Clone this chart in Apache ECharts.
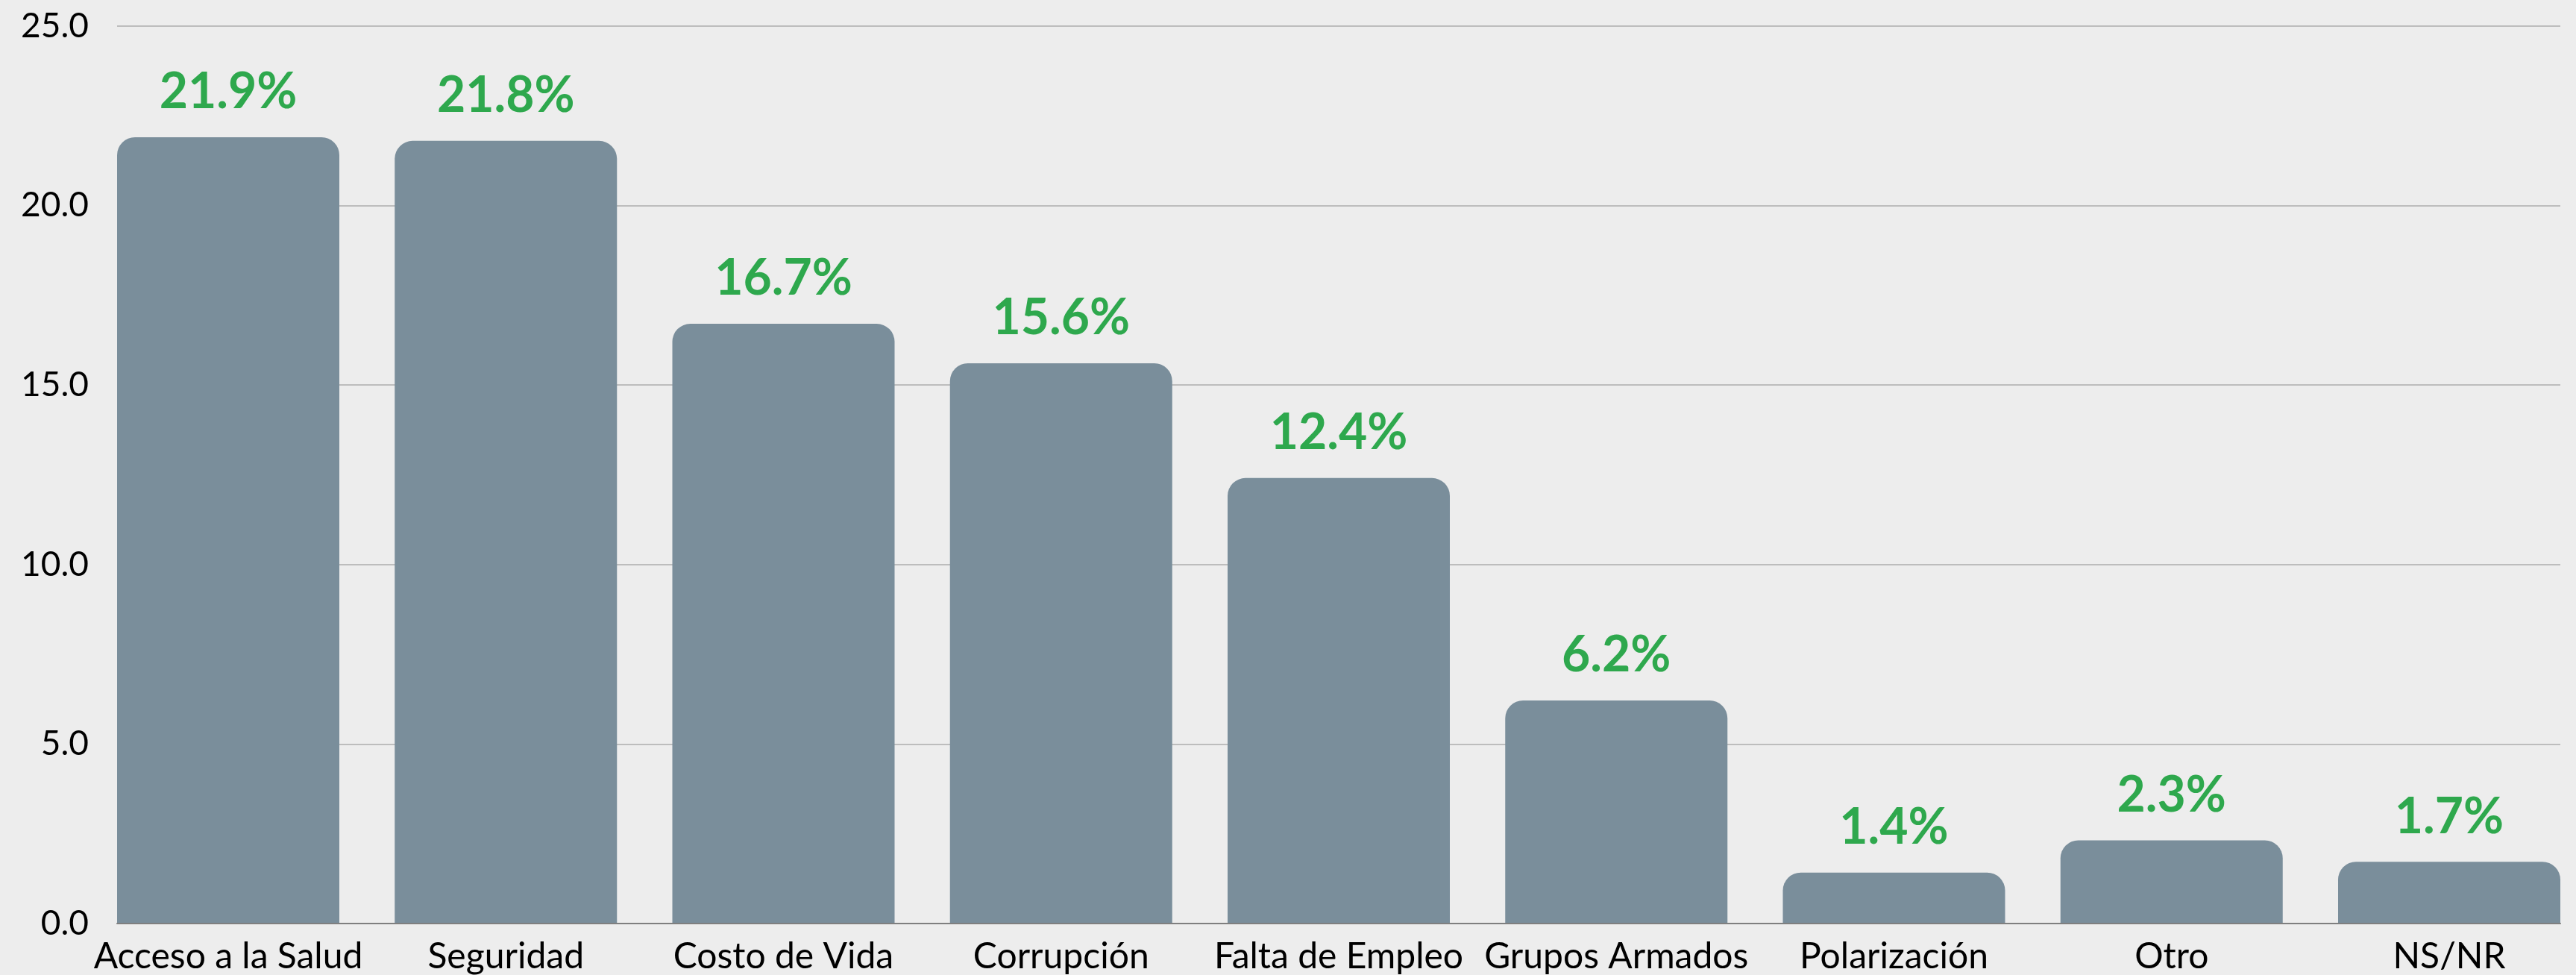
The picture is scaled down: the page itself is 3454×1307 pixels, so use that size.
<!DOCTYPE html>
<html>
<head>
<meta charset="utf-8">
<script src="https://cdn.jsdelivr.net/npm/echarts@6/dist/echarts.min.js"></script>
<style>
html,body{margin:0;padding:0;background:#ededed;}
#c{width:3454px;height:1307px;}
</style>
</head>
<body>
<div id="c"></div>
<script>
var categories = ['Acceso a la Salud','Seguridad','Costo de Vida','Corrupción','Falta de Empleo','Grupos Armados','Polarización','Otro','NS/NR'];
var values = [21.9, 21.8, 16.7, 15.6, 12.4, 6.2, 1.4, 2.3, 1.7];
var yTicks = [0, 5, 10, 15, 20, 25];

var chart = echarts.init(document.getElementById('c'), null, {renderer:'canvas'});
var option = {
  backgroundColor: '#ededed',
  animation: false,
  grid: [
    {left:157, width:3276, top:35, height:1203},
    {left:306, width:2978, top:35, height:1203}
  ],
  xAxis: [
    {gridIndex:0, type:'category', data:categories, boundaryGap:true,
     axisLine:{show:true, lineStyle:{color:'#7f7f7f', width:2}}, axisTick:{show:false},
     axisLabel:{show:false}, splitLine:{show:false}, z:5},
    {gridIndex:1, type:'category', data:categories, boundaryGap:false,
     axisLine:{show:false}, axisTick:{show:false},
     axisLabel:{show:true, color:'#000', fontFamily:'Lato', fontSize:48, margin:22, interval:0}}
  ],
  yAxis: [
    {gridIndex:0, type:'value', min:yTicks[0], max:yTicks[yTicks.length-1], interval:5,
     axisLine:{show:false}, axisTick:{show:false},
     axisLabel:{color:'#000', fontFamily:'Lato', fontSize:46, margin:38,
       formatter:function(v){return v.toFixed(1);}},
     splitLine:{show:true, lineStyle:{color:'#bdbdbd', width:2}}},
    {gridIndex:1, type:'value', min:yTicks[0], max:yTicks[yTicks.length-1], interval:5,
     axisLine:{show:false}, axisTick:{show:false}, axisLabel:{show:false}, splitLine:{show:false}}
  ],
  series: [{
    type:'bar', xAxisIndex:1, yAxisIndex:1, data:values, barWidth:298, clip:false,
    itemStyle:{color:'#7a8e9b', borderRadius:[24,24,0,0]},
    label:{show:true, position:'top', distance:27, color:'#2ea84d', fontFamily:'Lato', fontWeight:'bold', fontSize:66,
      formatter:function(p){return p.value.toFixed(1)+'%';}}
  }]
};
chart.setOption(option);
</script>
</body>
</html>
